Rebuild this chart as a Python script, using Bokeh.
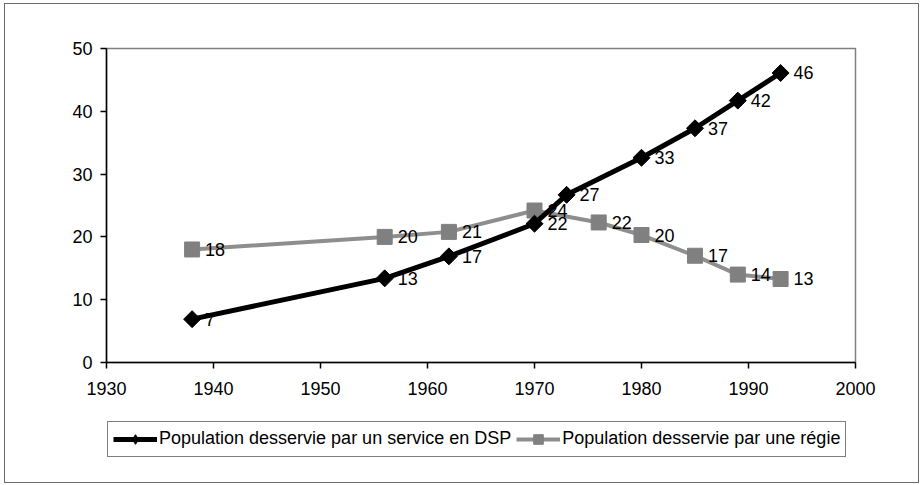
from bokeh.plotting import figure
from bokeh.layouts import column
from bokeh.models import Legend, LegendItem, FixedTicker, Range1d, ColumnDataSource
from bokeh.core.properties import value
from bokeh.embed import file_html
from bokeh.resources import INLINE

# ---- data ----
years_dsp = [1938, 1956, 1962, 1970, 1973, 1980, 1985, 1989, 1993]
pop_dsp = [6.9, 13.4, 16.9, 22.1, 26.7, 32.6, 37.3, 41.7, 46.1]
years_regie = [1938, 1956, 1962, 1970, 1976, 1980, 1985, 1989, 1993]
pop_regie = [18.0, 20.0, 20.8, 24.2, 22.3, 20.3, 17.0, 14.0, 13.3]
x_ticks = [1930, 1940, 1950, 1960, 1970, 1980, 1990, 2000]
y_ticks = [0, 10, 20, 30, 40, 50]
name_dsp = "Population desservie par un service en DSP"
name_regie = "Population desservie par une régie"

FONT = "Liberation Sans"
BORDER = "1.5px solid #6b6b6b"

src_dsp = ColumnDataSource(dict(x=years_dsp, y=pop_dsp, lab=[f"{v:.0f}" for v in pop_dsp]))
src_reg = ColumnDataSource(dict(x=years_regie, y=pop_regie, lab=[f"{v:.0f}" for v in pop_regie]))

# ---------------- main chart ----------------
p = figure(frame_width=749, frame_height=314,
           x_range=Range1d(x_ticks[0], x_ticks[-1]), y_range=Range1d(y_ticks[0], y_ticks[-1]),
           output_backend="svg", toolbar_location=None,
           min_border_left=101, min_border_right=63, min_border_top=44, min_border_bottom=50)
p.background_fill_color = "white"
p.border_fill_color = "white"
p.xgrid.visible = False
p.ygrid.visible = False
p.outline_line_color = "#808080"
p.outline_line_width = 1.5

for ax, ticks in ((p.xaxis, x_ticks), (p.yaxis, y_ticks)):
    ax.ticker = FixedTicker(ticks=ticks)
    ax.axis_line_color = "black"
    ax.axis_line_width = 1.5
    ax.major_tick_line_color = "black"
    ax.major_tick_line_width = 1.5
    ax.major_tick_out = 6
    ax.major_tick_in = 0
    ax.minor_tick_out = 0
    ax.minor_tick_in = 0
    ax.major_label_text_font = FONT
    ax.major_label_text_font_size = "18px"
    ax.major_label_text_color = "black"
p.xaxis.major_label_standoff = 13
p.yaxis.major_label_standoff = 8

# régie series
p.line("x", "y", source=src_reg, line_color="#8e8e8e", line_width=4)
p.scatter("x", "y", source=src_reg, marker="square", size=15,
          fill_color="#808080", line_color="#808080")
p.text("x", "y", text="lab", source=src_reg, x_offset=13, text_baseline="middle",
       text_font=value(FONT), text_font_size=value("18px"), text_color="black")

# DSP series
p.line("x", "y", source=src_dsp, line_color="black", line_width=5)
p.scatter("x", "y", source=src_dsp, marker="square", angle=0.785398, size=12,
          fill_color="black", line_color="black")
p.text("x", "y", text="lab", source=src_dsp, x_offset=13, text_baseline="middle",
       text_font=value(FONT), text_font_size=value("18px"), text_color="black")

# ---------------- legend strip ----------------
q = figure(width=913, height=70, x_range=Range1d(x_ticks[0], x_ticks[-1]),
           y_range=Range1d(y_ticks[0], y_ticks[-1]),
           output_backend="svg", toolbar_location=None,
           x_axis_location=None, y_axis_location=None,
           min_border_left=0, min_border_right=0, min_border_top=0, min_border_bottom=0)
q.background_fill_color = "white"
q.border_fill_color = "white"
q.outline_line_color = None
q.xgrid.visible = False
q.ygrid.visible = False

lg_dsp_l = q.line("x", "y", source=src_dsp, line_color="black", line_width=5, visible=False)
lg_dsp_s = q.scatter("x", "y", source=src_dsp, marker="diamond", size=12,
                     fill_color="black", line_color="black", visible=False)
lg_reg_l = q.line("x", "y", source=src_reg, line_color="#8e8e8e", line_width=4, visible=False)
lg_reg_s = q.scatter("x", "y", source=src_reg, marker="square", size=12,
                     fill_color="#808080", line_color="#808080", visible=False)

legend = Legend(items=[LegendItem(label=name_dsp, renderers=[lg_dsp_l, lg_dsp_s]),
                       LegendItem(label=name_regie, renderers=[lg_reg_l, lg_reg_s])],
                orientation="horizontal", location=(1, 25.5), margin=0,
                padding=5, spacing=5, glyph_width=44, glyph_height=24,
                label_height=24, label_standoff=2,
                label_text_font=FONT, label_text_font_size="18px",
                label_text_color="black",
                border_line_color="black", border_line_width=1.5,
                background_fill_color="white", background_fill_alpha=1.0,
                inactive_fill_alpha=0.0)
q.add_layout(legend)

layout = column(p, q, spacing=0, margin=(3, 0, 0, 4), styles={"border": BORDER})
open("out.html", "w").write(file_html(layout, INLINE))
